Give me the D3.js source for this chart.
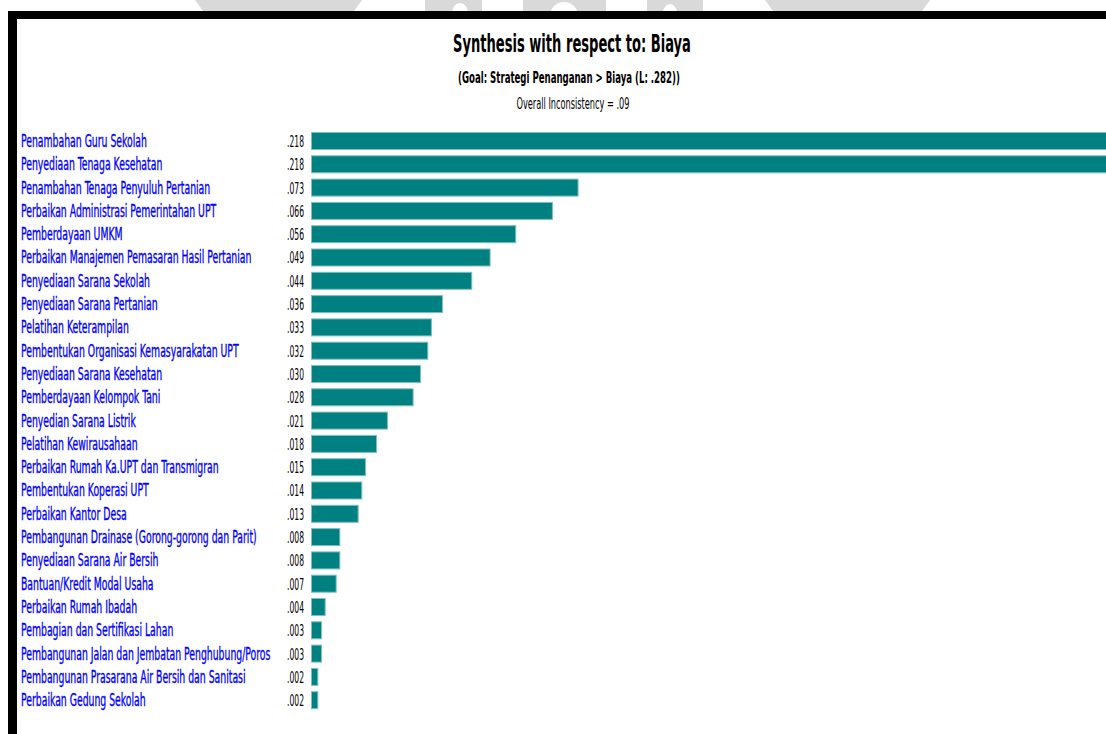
<!DOCTYPE html>
<html>
<head>
<meta charset="utf-8">
<script src="https://cdn.jsdelivr.net/npm/d3@7/dist/d3.min.js"></script>
<style>
  html, body { margin: 0; padding: 0; background: #fff; }
  svg { display: block; }
</style>
</head>
<body>
<svg id="chart" width="1106" height="734"></svg>
<script>
// Alternatives and their synthesized priorities with respect to "Biaya"
const alternatives = [
  "Penambahan Guru Sekolah",
  "Penyediaan Tenaga Kesehatan",
  "Penambahan Tenaga Penyuluh Pertanian",
  "Perbaikan Administrasi Pemerintahan UPT",
  "Pemberdayaan UMKM",
  "Perbaikan Manajemen Pemasaran Hasil Pertanian",
  "Penyediaan Sarana Sekolah",
  "Penyediaan Sarana Pertanian",
  "Pelatihan Keterampilan",
  "Pembentukan Organisasi Kemasyarakatan UPT",
  "Penyediaan Sarana Kesehatan",
  "Pemberdayaan Kelompok Tani",
  "Penyedian Sarana Listrik",
  "Pelatihan Kewirausahaan",
  "Perbaikan Rumah Ka.UPT dan Transmigran",
  "Pembentukan Koperasi UPT",
  "Perbaikan Kantor Desa",
  "Pembangunan Drainase (Gorong-gorong dan Parit)",
  "Penyediaan Sarana Air Bersih",
  "Bantuan/Kredit Modal Usaha",
  "Perbaikan Rumah Ibadah",
  "Pembagian dan Sertifikasi Lahan",
  "Pembangunan Jalan dan Jembatan Penghubung/Poros",
  "Pembangunan Prasarana Air Bersih dan Sanitasi",
  "Perbaikan Gedung Sekolah"
];
const priorities = [
  0.218, 0.218, 0.073, 0.066, 0.056, 0.049, 0.044, 0.036, 0.033, 0.032,
  0.030, 0.028, 0.021, 0.018, 0.015, 0.014, 0.013, 0.008, 0.008, 0.007,
  0.004, 0.003, 0.003, 0.002, 0.002
];
const titleText = "Synthesis with respect to: Biaya";
const subtitleText = "(Goal: Strategi Penanganan > Biaya (L: .282))";
const inconsistencyText = "Overall Inconsistency = .09";

const W = 1106, H = 734;
const svg = d3.select("#chart");
const narrow = "'Liberation Sans Narrow', 'Arial Narrow', 'DejaVu Sans Condensed', sans-serif";

const rows = alternatives.map((name, i) => ({ name, value: priorities[i] }));

// Faint logo shapes peeking above the window frame
const wm = svg.append("g").attr("fill", "#d9d9d9");
wm.append("path").attr("d", "M195,0 L362,0 L354,11 L203,11 Z");
wm.append("path").attr("d", "M425,0 L482,0 L482,11 L425,11 Z");
wm.append("path").attr("d", "M523,0 L606,0 L606,11 L523,11 Z");
wm.append("path").attr("d", "M647,0 L703,0 L703,11 L647,11 Z");
wm.append("path").attr("d", "M765,0 L930,0 L922,11 L773,11 Z");
const holes = svg.append("g").attr("fill", "#fff");
holes.append("ellipse").attr("cx", 460).attr("cy", 13).attr("rx", 8).attr("ry", 10);
holes.append("ellipse").attr("cx", 564).attr("cy", 13).attr("rx", 13).attr("ry", 11);
holes.append("ellipse").attr("cx", 670).attr("cy", 13).attr("rx", 7).attr("ry", 9);

// Window frame
svg.append("rect").attr("x", 8).attr("y", 11).attr("width", W - 8).attr("height", 8).attr("fill", "#000");
svg.append("rect").attr("x", 8).attr("y", 11).attr("width", 9).attr("height", H - 11).attr("fill", "#000");

// Scales
const step = 23.3;
const y = d3.scaleBand()
  .domain(alternatives)
  .range([129.35, 129.35 + alternatives.length * step])
  .paddingInner(0.227)
  .paddingOuter(0.1135);
const x = d3.scaleLinear().domain([0, 0.218]).range([311, 1110]);

// Squeeze a text element horizontally to a target width around anchorX
function fitWidth(sel, target, anchorX) {
  sel.each(function () {
    const k = target / this.getComputedTextLength();
    d3.select(this).attr("transform", `translate(${anchorX},0) scale(${k},1) translate(${-anchorX},0)`);
  });
}

// Headings
const t1 = svg.append("text").attr("x", 572).attr("y", 52).attr("text-anchor", "middle")
  .attr("font-family", narrow).attr("font-size", 25).attr("font-weight", "bold").attr("fill", "#000").text(titleText);
fitWidth(t1, 238, 572);
const t2 = svg.append("text").attr("x", 569).attr("y", 83).attr("text-anchor", "middle")
  .attr("font-family", narrow).attr("font-size", 15).attr("font-weight", "bold").attr("fill", "#000").text(subtitleText);
fitWidth(t2, 222, 569);
const t3 = svg.append("text").attr("x", 573).attr("y", 109).attr("text-anchor", "middle")
  .attr("font-family", narrow).attr("font-size", 15).attr("fill", "#000").text(inconsistencyText);
fitWidth(t3, 113, 573);

// Bars
svg.append("g").selectAll("rect").data(rows).join("rect")
  .attr("x", x(0) + 0.5)
  .attr("y", d => y(d.name) + 0.5)
  .attr("width", d => Math.max(0, x(d.value) - x(0) - 1))
  .attr("height", y.bandwidth() - 1)
  .attr("fill", "#008080")
  .attr("stroke", "#7fbfbf")
  .attr("stroke-width", 1);

// Alternative names
const names = svg.append("g").selectAll("text").data(rows).join("text")
  .attr("x", 21)
  .attr("y", d => y(d.name) + y.bandwidth() / 2 + 6)
  .attr("font-family", narrow).attr("font-size", 17)
  .attr("fill", "#0000ff")
  .attr("stroke", "#0000ff").attr("stroke-width", 0.35)
  .text(d => d.name);
// every name shares one horizontal squeeze, set from the first name's width
const kName = 126 / names.nodes()[0].getComputedTextLength();
names.attr("transform", `translate(21,0) scale(${kName},1) translate(-21,0)`);

// Priority values
const fmt = v => d3.format(".3f")(v).replace(/^0/, "");
const vals = svg.append("g").selectAll("text").data(rows).join("text")
  .attr("x", 304)
  .attr("y", d => y(d.name) + y.bandwidth() / 2 + 6)
  .attr("text-anchor", "end")
  .attr("font-family", narrow).attr("font-size", 16)
  .attr("fill", "#000")
  .text(d => fmt(d.value));
const kVal = 17 / vals.nodes()[0].getComputedTextLength();
vals.attr("transform", `translate(304,0) scale(${kVal},1) translate(-304,0)`);
</script>
</body>
</html>
